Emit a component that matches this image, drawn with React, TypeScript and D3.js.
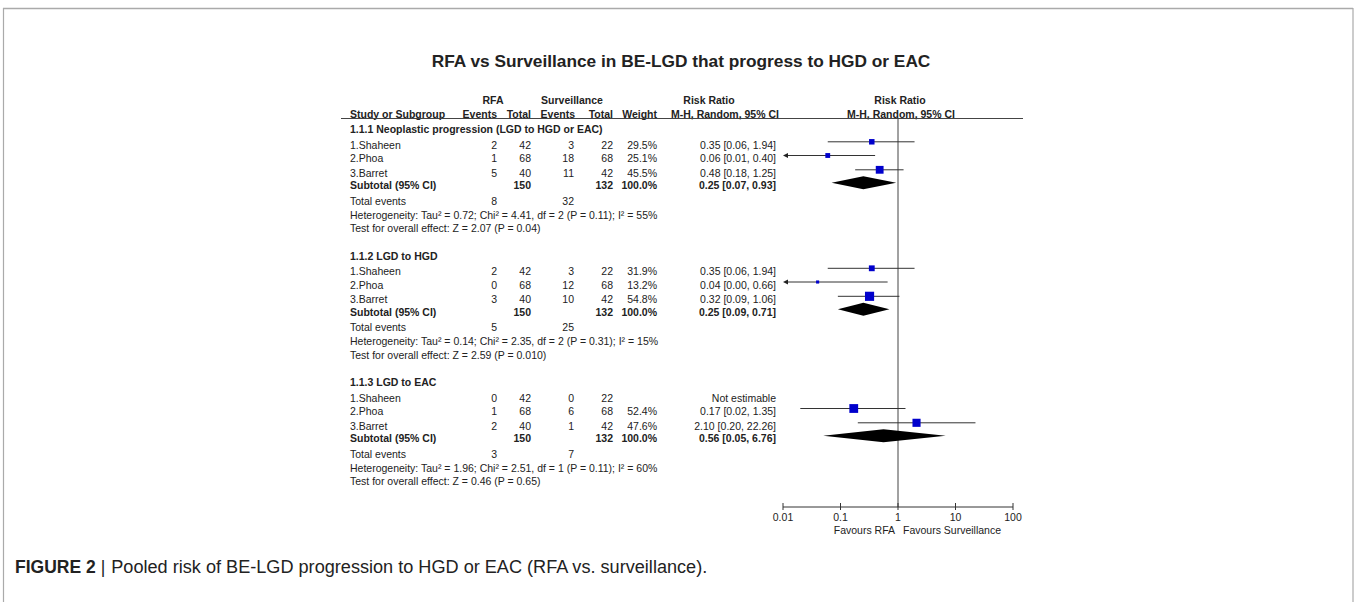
import React from "react";
import * as d3 from "d3";

// chart data
const title = "RFA vs Surveillance in BE-LGD that progress to HGD or EAC";
const groupNames = [
  "1.1.1 Neoplastic progression (LGD to HGD or EAC)",
  "1.1.2 LGD to HGD",
  "1.1.3 LGD to EAC",
];
const studies = ["1.Shaheen", "2.Phoa", "3.Barret"];
const rfaEvents = [
  [2, 1, 5],
  [2, 0, 3],
  [0, 1, 2],
];
const rfaTotal = [42, 68, 40];
const survEvents = [
  [3, 18, 11],
  [3, 12, 10],
  [0, 6, 1],
];
const survTotal = [22, 68, 42];
const weights = [
  [29.5, 25.1, 45.5],
  [31.9, 13.2, 54.8],
  [null, 52.4, 47.6],
];
const riskRatio = [
  [0.35, 0.06, 0.48],
  [0.35, 0.04, 0.32],
  [null, 0.17, 2.1],
];
const ciLow = [
  [0.06, 0.01, 0.18],
  [0.06, 0.0, 0.09],
  [null, 0.02, 0.2],
];
const ciHigh = [
  [1.94, 0.4, 1.25],
  [1.94, 0.66, 1.06],
  [null, 1.35, 22.26],
];
const pooledRR = [0.25, 0.25, 0.56];
const pooledLow = [0.07, 0.09, 0.05];
const pooledHigh = [0.93, 0.71, 6.76];
const subtotalRfa = [150, 150, 150];
const subtotalSurv = [132, 132, 132];
const totalEventsRfa = [8, 5, 3];
const totalEventsSurv = [32, 25, 7];
const heterogeneity = [
  "Heterogeneity: Tau² = 0.72; Chi² = 4.41, df = 2 (P = 0.11); I² = 55%",
  "Heterogeneity: Tau² = 0.14; Chi² = 2.35, df = 2 (P = 0.31); I² = 15%",
  "Heterogeneity: Tau² = 1.96; Chi² = 2.51, df = 1 (P = 0.11); I² = 60%",
];
const overallEffect = [
  "Test for overall effect: Z = 2.07 (P = 0.04)",
  "Test for overall effect: Z = 2.59 (P = 0.010)",
  "Test for overall effect: Z = 0.46 (P = 0.65)",
];
const axisTicks = [0.01, 0.1, 1, 10, 100];
const tickLabels = ["0.01", "0.1", "1", "10", "100"];

const W = 1355;
const H = 602;
const FONT = "Liberation Sans, Arial, Helvetica, sans-serif";
const INK = "#222";
const FS = 10.5;

// layout
const sectionTop = [129.5, 256, 382.5];
const rowOffset = [0, 15.3, 29, 43.3, 56.2, 71.4, 85.6, 98.8];
const col = { study: 350, ev1: 497, tot1: 531, ev2: 574, tot2: 613, weight: 657, ci: 776 };
const axisY = 507;

const fmt2 = (v: number) => v.toFixed(2);
const ciText = (r: number, l: number, h: number) => `${fmt2(r)} [${fmt2(l)}, ${fmt2(h)}]`;

export default function App() {
  const x = d3.scaleLog().domain([0.01, 100]).range([783, 1013]).clamp(true);
  const side = d3.scaleLinear().domain([0, 100]).range([1.2, 15.7]);
  const sx = (v: number) => x(Math.max(v, 0.01));

  const T = (props: any) => (
    <text fontFamily={FONT} fontSize={FS} fill={INK} {...props} />
  );

  return (
    <div style={{ position: "absolute", left: 0, top: 0 }}>
      <svg width={W} height={H} style={{ display: "block", background: "#fff" }}>
        {/* frame */}
        <line x1={3} y1={8.5} x2={1353} y2={8.5} stroke="#aaa" strokeWidth={1.5} />
        <line x1={3.5} y1={8} x2={3.5} y2={H} stroke="#aaa" strokeWidth={1.2} />
        <line x1={1353} y1={8} x2={1353} y2={H} stroke="#aaa" strokeWidth={1.2} />

        <text x={681} y={67} textAnchor="middle" fontFamily={FONT} fontSize={17.3} fontWeight="bold" fill={INK}>
          {title}
        </text>

        {/* header */}
        <T x={493} y={104} textAnchor="middle" fontWeight="bold">RFA</T>
        <T x={572} y={104} textAnchor="middle" fontWeight="bold">Surveillance</T>
        <T x={709} y={104} textAnchor="middle" fontWeight="bold">Risk Ratio</T>
        <T x={900} y={104} textAnchor="middle" fontWeight="bold">Risk Ratio</T>
        <T x={col.study} y={118} fontWeight="bold">Study or Subgroup</T>
        <T x={col.ev1} y={118} textAnchor="end" fontWeight="bold">Events</T>
        <T x={col.tot1} y={118} textAnchor="end" fontWeight="bold">Total</T>
        <T x={575} y={118} textAnchor="end" fontWeight="bold">Events</T>
        <T x={col.tot2} y={118} textAnchor="end" fontWeight="bold">Total</T>
        <T x={col.weight} y={118} textAnchor="end" fontWeight="bold">Weight</T>
        <T x={725} y={118} textAnchor="middle" fontWeight="bold">M-H, Random, 95% CI</T>
        <T x={901} y={118} textAnchor="middle" fontWeight="bold">M-H, Random, 95% CI</T>
        <line x1={341} y1={118.5} x2={1023} y2={118.5} stroke="#444" strokeWidth={1} />

        {/* line of no effect */}
        <line x1={x(1)} y1={118.5} x2={x(1)} y2={axisY} stroke="#444" strokeWidth={1} />

        {groupNames.map((g, gi) => {
          const top = sectionTop[gi];
          const ry = (k: number) => top + rowOffset[k];
          const base = (k: number) => ry(k) + 3.7;
          return (
            <g key={g}>
              <T x={col.study} y={base(0)} fontWeight="bold">{g}</T>
              {studies.map((s, si) => {
                const k = si + 1;
                const r = riskRatio[gi][si];
                const lo = ciLow[gi][si];
                const hi = ciHigh[gi][si];
                const w = weights[gi][si];
                const my = ry(k) - 3;
                return (
                  <g key={s}>
                    <T x={col.study} y={base(k)}>{s}</T>
                    <T x={col.ev1} y={base(k)} textAnchor="end">{rfaEvents[gi][si]}</T>
                    <T x={col.tot1} y={base(k)} textAnchor="end">{rfaTotal[si]}</T>
                    <T x={col.ev2} y={base(k)} textAnchor="end">{survEvents[gi][si]}</T>
                    <T x={col.tot2} y={base(k)} textAnchor="end">{survTotal[si]}</T>
                    {w != null && (
                      <T x={col.weight} y={base(k)} textAnchor="end">{w.toFixed(1)}%</T>
                    )}
                    <T x={col.ci} y={base(k)} textAnchor="end">
                      {r == null ? "Not estimable" : ciText(r, lo as number, hi as number)}
                    </T>
                    {r != null && (
                      <g>
                        <line
                          x1={sx(lo as number) + ((lo as number) <= 0.01 ? 2 : 0)}
                          x2={sx(hi as number)}
                          y1={my}
                          y2={my}
                          stroke="#333"
                          strokeWidth={1}
                        />
                        {(lo as number) <= 0.01 && (
                          <path d={`M${x(0.01)},${my} l5,-2.5 l0,5 z`} fill="#222" />
                        )}
                        <rect
                          x={sx(r) - side(w as number) / 2}
                          y={my - side(w as number) / 2}
                          width={side(w as number)}
                          height={side(w as number)}
                          fill="#0000cc"
                        />
                      </g>
                    )}
                  </g>
                );
              })}
              <T x={col.study} y={base(4)} fontWeight="bold">Subtotal (95% CI)</T>
              <T x={col.tot1} y={base(4)} textAnchor="end" fontWeight="bold">{subtotalRfa[gi]}</T>
              <T x={col.tot2} y={base(4)} textAnchor="end" fontWeight="bold">{subtotalSurv[gi]}</T>
              <T x={col.weight} y={base(4)} textAnchor="end" fontWeight="bold">100.0%</T>
              <T x={col.ci} y={base(4)} textAnchor="end" fontWeight="bold">
                {ciText(pooledRR[gi], pooledLow[gi], pooledHigh[gi])}
              </T>
              <path
                d={`M${sx(pooledLow[gi])},${ry(4) - 3} L${sx(pooledRR[gi])},${ry(4) - 9.5} L${sx(pooledHigh[gi])},${ry(4) - 3} L${sx(pooledRR[gi])},${ry(4) + 3.5} Z`}
                fill="#000"
              />
              <T x={col.study} y={base(5)}>Total events</T>
              <T x={col.ev1} y={base(5)} textAnchor="end">{totalEventsRfa[gi]}</T>
              <T x={col.ev2} y={base(5)} textAnchor="end">{totalEventsSurv[gi]}</T>
              <T x={col.study} y={base(6)}>{heterogeneity[gi]}</T>
              <T x={col.study} y={base(7)}>{overallEffect[gi]}</T>
            </g>
          );
        })}

        {/* axis */}
        <line x1={x(0.01)} x2={x(100)} y1={axisY} y2={axisY} stroke="#333" strokeWidth={1} />
        {axisTicks.map((t, i) => (
          <g key={t}>
            <line x1={x(t)} x2={x(t)} y1={axisY - 4} y2={axisY + 3} stroke="#333" strokeWidth={1} />
            <T x={x(t)} y={520.5} textAnchor="middle">{tickLabels[i]}</T>
          </g>
        ))}
        <T x={895} y={534} textAnchor="end">Favours RFA</T>
        <T x={903} y={534}>Favours Surveillance</T>

        {/* caption */}
        <text x={15} y={573} fontFamily={FONT} fontSize={17.5} fill={INK}>
          <tspan fontWeight="bold">FIGURE 2</tspan>
          <tspan dx={5}>|</tspan>
          <tspan dx={6} textLength={596} lengthAdjust="spacingAndGlyphs">
            Pooled risk of BE-LGD progression to HGD or EAC (RFA vs. surveillance).
          </tspan>
        </text>
      </svg>
    </div>
  );
}
